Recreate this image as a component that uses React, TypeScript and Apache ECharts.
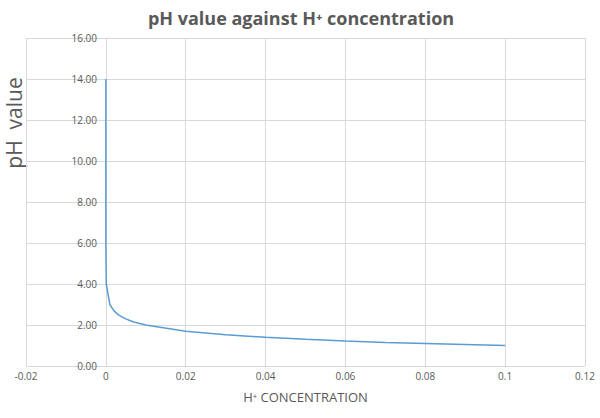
import React, { useEffect, useRef } from "react";
import * as echarts from "echarts";

const concentration = [1e-14, 1e-12, 1e-10, 1e-8, 1e-6, 1e-4, 0.001, 0.002, 0.003, 0.004, 0.005, 0.006, 0.007, 0.008, 0.009, 0.01, 0.02, 0.03, 0.04, 0.05, 0.06, 0.07, 0.08, 0.09, 0.1];
const phValues = [14, 12, 10, 8, 6, 4, 3, 2.7, 2.52, 2.4, 2.3, 2.22, 2.15, 2.1, 2.05, 2.0, 1.7, 1.52, 1.4, 1.3, 1.22, 1.15, 1.1, 1.05, 1.0];

const titleText = "pH value against H\u207A concentration";
const xAxisName = "H\u207A CONCENTRATION";
const yAxisName = "pH  value";

export default function App() {
  const ref = useRef<HTMLDivElement>(null);
  useEffect(() => {
    if (!ref.current) return;
    const chart = echarts.init(ref.current, null, { renderer: "svg" });
    const font = "'Open Sans', 'Noto Sans', sans-serif";
    chart.setOption({
      animation: false,
      backgroundColor: "#ffffff",
      textStyle: { fontFamily: font },
      title: {
        text: titleText,
        left: 296,
        textAlign: "center",
        top: 4,
        textStyle: { fontFamily: font, fontSize: 18, fontWeight: "bold", color: "#595959" },
      },
      grid: { left: 26, right: 15, top: 38, bottom: 52, containLabel: false },
      xAxis: {
        type: "value",
        min: -0.02,
        max: 0.12,
        interval: 0.02,
        name: xAxisName,
        nameLocation: "middle",
        nameGap: 24,
        nameTextStyle: { fontFamily: font, fontSize: 13, color: "#595959" },
        axisLine: { show: false },
        axisTick: { show: false },
        axisLabel: {
          color: "#595959",
          fontSize: 10,
          margin: 5,
          formatter: (v: number) => String(+v.toFixed(2)),
        },
        splitLine: { show: true, lineStyle: { color: "#d9d9d9", width: 1 } },
      },
      yAxis: {
        type: "value",
        min: 0,
        max: 16,
        interval: 2,
        offset: -80,
        axisLine: { show: true, onZero: false, lineStyle: { color: "#d9d9d9", width: 1 } },
        axisTick: { show: false },
        axisLabel: {
          color: "#595959",
          fontSize: 10,
          margin: 9,
          formatter: (v: number) => v.toFixed(2),
        },
        splitLine: { show: true, lineStyle: { color: "#d9d9d9", width: 1 } },
      },
      graphic: [
        {
          type: "text",
          x: 14,
          y: 123,
          rotation: Math.PI / 2,
          style: {
            text: yAxisName,
            fontFamily: font,
            fontSize: 21,
            fill: "#595959",
            align: "center",
            verticalAlign: "middle",
          },
        },
      ],
      series: [
        {
          type: "line",
          data: concentration.map((c, i) => [c, phValues[i]]),
          showSymbol: false,
          smooth: false,
          lineStyle: { color: "#5b9bd5", width: 1.5 },
          itemStyle: { color: "#5b9bd5" },
        },
      ],
    });
    return () => chart.dispose();
  }, []);
  return <div ref={ref} style={{ position: "fixed", left: 0, top: 0, width: 600, height: 418 }} />;
}
